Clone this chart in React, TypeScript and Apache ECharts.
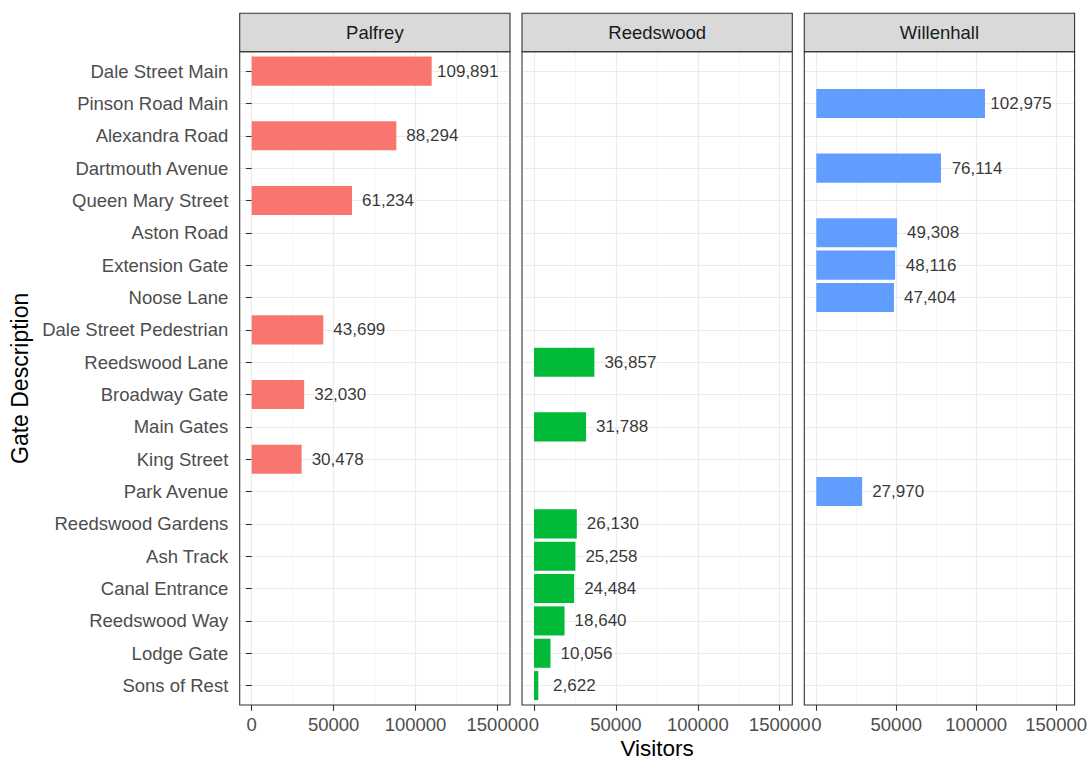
import React, { useEffect, useRef } from "react";
import * as echarts from "echarts";

// ---- data ----
const gates = [
  "Dale Street Main",
  "Pinson Road Main",
  "Alexandra Road",
  "Dartmouth Avenue",
  "Queen Mary Street",
  "Aston Road",
  "Extension Gate",
  "Noose Lane",
  "Dale Street Pedestrian",
  "Reedswood Lane",
  "Broadway Gate",
  "Main Gates",
  "King Street",
  "Park Avenue",
  "Reedswood Gardens",
  "Ash Track",
  "Canal Entrance",
  "Reedswood Way",
  "Lodge Gate",
  "Sons of Rest",
];
const visitors = [
  109891, 102975, 88294, 76114, 61234, 49308, 48116, 47404, 43699, 36857,
  32030, 31788, 30478, 27970, 26130, 25258, 24484, 18640, 10056, 2622,
];
const gateSite = [
  "Palfrey", "Willenhall", "Palfrey", "Willenhall", "Palfrey", "Willenhall",
  "Willenhall", "Willenhall", "Palfrey", "Reedswood", "Palfrey", "Reedswood",
  "Palfrey", "Willenhall", "Reedswood", "Reedswood", "Reedswood", "Reedswood",
  "Reedswood", "Reedswood",
];
const sites = ["Palfrey", "Reedswood", "Willenhall"];
const siteColors = ["#F8766D", "#00BA38", "#619CFF"];
const xTickValues = [0, 50000, 100000, 150000];
const LABEL_NUDGE = 22000;

// ---- layout ----
const FONT = "'Liberation Sans', Arial, sans-serif";
const PANEL_LEFT0 = 239.7;
const PANEL_STEP = 282.3;
const PANEL_W = 270.3;
const ZERO_INSET = 12;
const SCALE_W = 245.7;
const PANEL_TOP = 51.7;
const PANEL_BOTTOM = 705;
const STRIP_TOP = 13.3;
const BAND = (PANEL_BOTTOM - PANEL_TOP) / (gates.length + 0.2);
const CAT_TOP = PANEL_TOP + 0.1 * BAND;
const CAT_H = gates.length * BAND;

const fmt = (v: number) => v.toLocaleString("en-US");

export default function App() {
  const ref = useRef<HTMLDivElement>(null);

  useEffect(() => {
    const chart = echarts.init(ref.current!, null, { renderer: "svg" });

    const grids: any[] = [];
    const xAxes: any[] = [];
    const yAxes: any[] = [];
    const series: any[] = [];
    const graphics: any[] = [];

    sites.forEach((site, p) => {
      const L = PANEL_LEFT0 + p * PANEL_STEP;
      const base = p * 3;

      // grid A: horizontal gridlines across the full panel width
      grids.push({ left: L, top: CAT_TOP, width: PANEL_W, height: CAT_H });
      xAxes.push({ gridIndex: base, type: "value", show: false, min: 0, max: 1 });
      yAxes.push({
        gridIndex: base,
        type: "value",
        inverse: true,
        min: 0.5,
        max: gates.length + 0.5,
        splitNumber: gates.length,
        axisLine: { show: false },
        axisTick: { show: false },
        axisLabel: { show: false },
        splitLine: {
          show: true,
          showMinLine: false,
          showMaxLine: false,
          lineStyle: { color: "#EBEBEB", width: 1.1 },
        },
      });

      // grid B: vertical gridlines + x ticks/labels, full panel height
      grids.push({
        left: L + ZERO_INSET,
        top: PANEL_TOP,
        width: SCALE_W,
        height: PANEL_BOTTOM - PANEL_TOP,
      });
      xAxes.push({
        gridIndex: base + 1,
        type: "value",
        min: xTickValues[0],
        max: xTickValues[xTickValues.length - 1],
        interval: xTickValues[1] - xTickValues[0],
        axisLine: { show: false },
        axisTick: { show: true, length: 5.8, lineStyle: { color: "#333333", width: 1.1 } },
        axisLabel: {
          show: true,
          margin: 10,
          fontSize: 18.5,
          color: "#4D4D4D",
          fontFamily: FONT,
          formatter: (v: number) => String(v),
        },
        splitLine: { show: true, lineStyle: { color: "#EBEBEB", width: 1.1 } },
        minorTick: { show: false, splitNumber: 2 },
        minorSplitLine: { show: true, lineStyle: { color: "#EBEBEB", width: 0.55 } },
      });
      yAxes.push({ gridIndex: base + 1, type: "value", show: false, min: 0, max: 1 });

      // grid C: bars
      grids.push({ left: L + ZERO_INSET, top: CAT_TOP, width: SCALE_W, height: CAT_H });
      xAxes.push({
        gridIndex: base + 2,
        type: "value",
        show: false,
        min: xTickValues[0],
        max: xTickValues[xTickValues.length - 1],
      });
      yAxes.push({
        gridIndex: base + 2,
        type: "category",
        data: gates,
        inverse: true,
        show: p === 0,
        offset: ZERO_INSET,
        axisLine: { show: false },
        axisTick: {
          show: p === 0,
          alignWithLabel: true,
          length: 5.8,
          lineStyle: { color: "#333333", width: 1.1 },
        },
        axisLabel: {
          show: p === 0,
          interval: 0,
          margin: 11.4,
          fontSize: 18.5,
          color: "#4D4D4D",
          fontFamily: FONT,
        },
        splitLine: { show: false },
      });

      series.push({
        type: "bar",
        xAxisIndex: base + 2,
        yAxisIndex: base + 2,
        barWidth: "90%",
        silent: true,
        itemStyle: { color: siteColors[p] },
        data: gates.map((g, i) => (gateSite[i] === site ? visitors[i] : "-")),
      });
      series.push({
        type: "scatter",
        xAxisIndex: base + 2,
        yAxisIndex: base + 2,
        symbol: "circle",
        symbolSize: 1,
        clip: false,
        silent: true,
        itemStyle: { color: "transparent" },
        label: {
          show: true,
          position: "inside",
          formatter: "{b}",
          fontSize: 17,
          color: "#000000",
          fontFamily: FONT,
        },
        data: gates.flatMap((g, i) =>
          gateSite[i] === site
            ? [{ name: fmt(visitors[i]), value: [visitors[i] + LABEL_NUDGE, i] }]
            : []
        ),
      });

      // strip
      graphics.push({
        type: "rect",
        shape: { x: L, y: STRIP_TOP, width: PANEL_W, height: PANEL_TOP - STRIP_TOP },
        style: { fill: "#D9D9D9", stroke: "#333333", lineWidth: 1.1 },
        z: 100,
      });
      graphics.push({
        type: "text",
        x: L + PANEL_W / 2,
        y: (STRIP_TOP + PANEL_TOP) / 2,
        style: {
          text: site,
          fontSize: 18.5,
          fill: "#1A1A1A",
          fontFamily: FONT,
          textAlign: "center",
          textVerticalAlign: "middle",
        },
        z: 101,
      });
      // panel border
      graphics.push({
        type: "rect",
        shape: { x: L, y: PANEL_TOP, width: PANEL_W, height: PANEL_BOTTOM - PANEL_TOP },
        style: { fill: "none", stroke: "#333333", lineWidth: 1.1 },
        z: 100,
      });
    });

    graphics.push({
      type: "text",
      x: 20,
      y: (PANEL_TOP + PANEL_BOTTOM) / 2,
      rotation: Math.PI / 2,
      style: {
        text: "Gate Description",
        fontSize: 23,
        fill: "#000000",
        fontFamily: FONT,
        textAlign: "center",
        textVerticalAlign: "middle",
      },
      z: 101,
    });
    graphics.push({
      type: "text",
      x: PANEL_LEFT0 + (2 * PANEL_STEP + PANEL_W) / 2,
      y: 748,
      style: {
        text: "Visitors",
        fontSize: 22.5,
        fill: "#000000",
        fontFamily: FONT,
        textAlign: "center",
        textVerticalAlign: "middle",
      },
      z: 101,
    });

    chart.setOption({
      animation: false,
      backgroundColor: "#FFFFFF",
      textStyle: { fontFamily: FONT },
      grid: grids,
      xAxis: xAxes,
      yAxis: yAxes,
      series,
      graphic: { elements: graphics },
    });

    return () => chart.dispose();
  }, []);

  return (
    <div
      ref={ref}
      style={{ position: "absolute", left: 0, top: 0, width: 1090, height: 760, background: "#fff" }}
    />
  );
}
